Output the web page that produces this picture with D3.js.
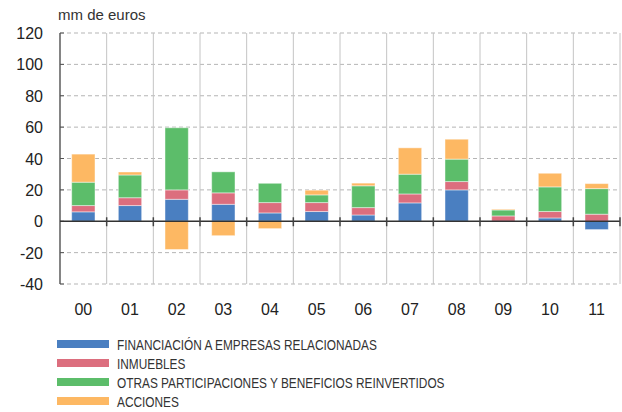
<!DOCTYPE html>
<html>
<head>
<meta charset="utf-8">
<script src="https://cdn.jsdelivr.net/npm/d3@7/dist/d3.min.js"></script>
<style>
  body { margin: 0; background: #fff; }
  svg { display: block; }
</style>
</head>
<body>
<svg id="chart" width="622" height="412"></svg>
<script>
// Years (two-digit labels)
const years = ["00", "01", "02", "03", "04", "05", "06", "07", "08", "09", "10", "11"];

// Components, in stacking order (bottom to top)
const seriesNames = [
  "FINANCIACIÓN A EMPRESAS RELACIONADAS",
  "INMUEBLES",
  "OTRAS PARTICIPACIONES Y BENEFICIOS REINVERTIDOS",
  "ACCIONES"
];
const financiacion = [6, 10, 14, 10.8, 5.3, 6.2, 4, 11.7, 20, 0, 2.1, -5.3];
const inmuebles    = [4, 5, 6, 7.3, 6.6, 5.7, 4.7, 5.7, 5.3, 3.4, 4.1, 4.5];
const otras        = [14.9, 14.5, 39.6, 13.4, 12.3, 4.9, 13.9, 12.6, 14.3, 3.8, 15.7, 16.3];
const acciones     = [17.9, 1.9, -18, -9.2, -4.7, 3.0, 1.7, 16.8, 12.7, 0.5, 8.7, 3.2];
const yTicks = [-40, -20, 0, 20, 40, 60, 80, 100, 120];
const colors = ["#4a7fc1", "#dc6e7e", "#5cbd6a", "#fdb863"];

const svg = d3.select("#chart");
const margin = { left: 60, right: 2, top: 33, bottom: 128 };
const W = 622, H = 412;

const rows = years.map((y, i) => ({
  year: y,
  s0: financiacion[i], s1: inmuebles[i], s2: otras[i], s3: acciones[i]
}));
const keys = ["s0", "s1", "s2", "s3"];
const stacked = d3.stack().keys(keys).offset(d3.stackOffsetDiverging)(rows);

const x = d3.scaleBand().domain(years).range([margin.left, W - margin.right]).paddingInner(0).paddingOuter(0);
const y = d3.scaleLinear().domain([-40, 120]).range([H - margin.bottom, margin.top]);

const fontNum = "'Liberation Sans', Arial, Helvetica, sans-serif";

// Horizontal dashed gridlines
svg.append("g").selectAll("line").data(yTicks.filter(t => t !== 0)).join("line")
  .attr("x1", margin.left).attr("x2", W - margin.right)
  .attr("y1", d => y(d)).attr("y2", d => y(d))
  .attr("stroke", "#b5b5b5").attr("stroke-width", 1).attr("stroke-dasharray", "4,3");

// Vertical solid gridlines between years
const bounds = years.slice(1).map(d => x(d)).concat([W - margin.right]);
svg.append("g").selectAll("line").data(bounds).join("line")
  .attr("x1", d => d).attr("x2", d => d)
  .attr("y1", y(120)).attr("y2", y(-40))
  .attr("stroke", "#c4c4c4").attr("stroke-width", 1);

// Stacked bars
svg.append("g").selectAll("g").data(stacked).join("g")
  .attr("fill", (d, i) => colors[i])
  .selectAll("rect").data(d => d).join("rect")
  .attr("x", d => x(d.data.year) + x.bandwidth() * 0.25)
  .attr("width", x.bandwidth() * 0.5)
  .attr("y", d => y(Math.max(d[0], d[1])))
  .attr("height", d => Math.abs(y(d[0]) - y(d[1])))
  .attr("stroke", "#ffffff").attr("stroke-opacity", 0.45).attr("stroke-width", 1);

// Y axis line and ticks
svg.append("line")
  .attr("x1", margin.left).attr("x2", margin.left)
  .attr("y1", y(120)).attr("y2", y(-40))
  .attr("stroke", "#333").attr("stroke-width", 1.2);
svg.append("g").selectAll("line").data(yTicks).join("line")
  .attr("x1", margin.left).attr("x2", margin.left + 4)
  .attr("y1", d => y(d)).attr("y2", d => y(d))
  .attr("stroke", "#555").attr("stroke-width", 1);

// Zero line with category ticks
svg.append("line")
  .attr("x1", margin.left).attr("x2", W - margin.right)
  .attr("y1", y(0)).attr("y2", y(0))
  .attr("stroke", "#333").attr("stroke-width", 1.3);
svg.append("g").selectAll("line").data(bounds).join("line")
  .attr("x1", d => d).attr("x2", d => d)
  .attr("y1", y(0) - 4).attr("y2", y(0) + 5)
  .attr("stroke", "#444").attr("stroke-width", 1.5);

// Y tick labels
svg.append("g").selectAll("text").data(yTicks).join("text")
  .attr("x", 43).attr("y", d => y(d) + 6)
  .attr("text-anchor", "end")
  .attr("font-family", fontNum).attr("font-size", 16).attr("fill", "#222")
  .text(d => d);

// X labels
svg.append("g").selectAll("text").data(years).join("text")
  .attr("x", d => x(d) + x.bandwidth() / 2).attr("y", 315)
  .attr("text-anchor", "middle")
  .attr("font-family", fontNum).attr("font-size", 16).attr("fill", "#222")
  .text(d => d);

// Unit label
svg.append("text").attr("x", 58).attr("y", 20)
  .attr("font-family", fontNum).attr("font-size", 15).attr("fill", "#333")
  .text("mm de euros");

// Legend (condensed labels via horizontal scaling)
const legend = svg.append("g").selectAll("g").data(seriesNames).join("g")
  .attr("transform", (d, i) => `translate(57, ${344 + i * 19})`);
legend.append("rect").attr("x", 0).attr("y", -4).attr("width", 52).attr("height", 8)
  .attr("fill", (d, i) => colors[i]);
legend.append("text")
  .attr("transform", "translate(60, 5.5) scale(0.79, 1)")
  .attr("font-family", fontNum)
  .attr("font-size", 15).attr("fill", "#333")
  .text(d => d);
</script>
</body>
</html>
